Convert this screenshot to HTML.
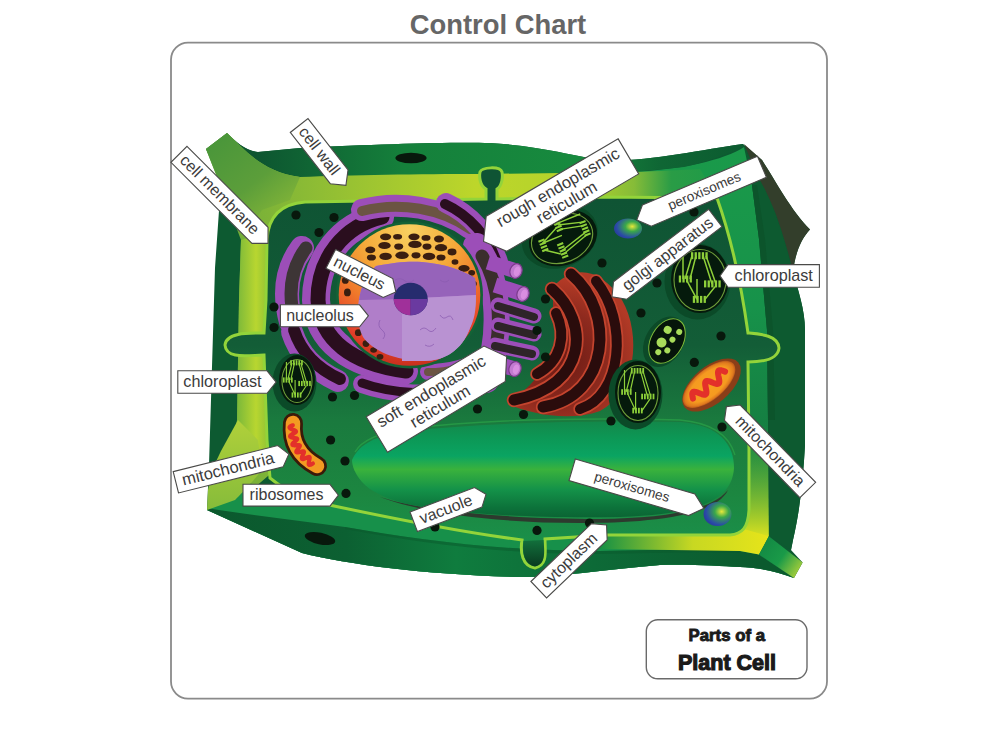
<!DOCTYPE html><html><head><meta charset="utf-8"><style>
html,body{margin:0;padding:0;background:#fff;}
svg{display:block;font-family:"Liberation Sans",sans-serif;}
text{fill:#3b3b3b;}
</style></head><body>
<svg width="1001" height="734" viewBox="0 0 1001 734">
<defs>
<linearGradient id="cyto" gradientUnits="userSpaceOnUse" x1="0" y1="200" x2="0" y2="545">
 <stop offset="0" stop-color="#0f5434"/><stop offset="0.42" stop-color="#135d37"/><stop offset="0.64" stop-color="#1a7a3e"/><stop offset="0.85" stop-color="#1c8640"/><stop offset="1" stop-color="#1a904a"/>
</linearGradient>
<linearGradient id="olive" gradientUnits="userSpaceOnUse" x1="210" y1="0" x2="740" y2="0">
 <stop offset="0" stop-color="#6aa83a"/><stop offset="0.15" stop-color="#86b836"/><stop offset="0.5" stop-color="#bdd62a"/><stop offset="0.7" stop-color="#b3d22c"/><stop offset="0.8" stop-color="#86bc38"/><stop offset="0.87" stop-color="#2a9c46"/><stop offset="1" stop-color="#1a9a48"/>
</linearGradient>
<linearGradient id="vac" x1="0" y1="0" x2="0" y2="1">
 <stop offset="0" stop-color="#13884a"/><stop offset="0.18" stop-color="#0c9856"/><stop offset="0.36" stop-color="#0aa462"/><stop offset="0.5" stop-color="#3ab23c"/>
 <stop offset="0.71" stop-color="#149249"/><stop offset="0.9" stop-color="#0c723a"/><stop offset="1" stop-color="#0b6434"/>
</linearGradient>
<radialGradient id="nucOr" cx="0.5" cy="0.05" r="0.95">
 <stop offset="0" stop-color="#f8d060"/><stop offset="0.35" stop-color="#f5aa3a"/><stop offset="0.6" stop-color="#f07a2a"/><stop offset="0.85" stop-color="#e4402a"/><stop offset="1" stop-color="#c8301e"/>
</radialGradient>
<radialGradient id="perox" cx="0.65" cy="0.4" r="0.7">
 <stop offset="0" stop-color="#e8e83a"/><stop offset="0.35" stop-color="#3aa84a"/><stop offset="0.8" stop-color="#2a4aa8"/><stop offset="1" stop-color="#2a3a98"/>
</radialGradient>
<linearGradient id="yel" x1="0" y1="0" x2="1" y2="0">
 <stop offset="0" stop-color="#159044"/><stop offset="0.55" stop-color="#c8d822"/><stop offset="1" stop-color="#e6e41a"/>
</linearGradient>
<linearGradient id="horn" gradientUnits="userSpaceOnUse" x1="762" y1="545" x2="800" y2="572">
 <stop offset="0" stop-color="#138a44"/><stop offset="0.5" stop-color="#1a9a48"/><stop offset="1" stop-color="#a8cf3a"/>
</linearGradient>
<linearGradient id="rightY" x1="0" y1="0" x2="0" y2="1">
 <stop offset="0" stop-color="#17964a" stop-opacity="0"/><stop offset="1" stop-color="#d8e020"/>
</linearGradient>
<linearGradient id="topband" gradientUnits="userSpaceOnUse" x1="255" y1="0" x2="750" y2="0">
 <stop offset="0" stop-color="#0d5530"/><stop offset="0.3" stop-color="#15803b"/><stop offset="0.65" stop-color="#178a3e"/><stop offset="0.82" stop-color="#0f6634"/><stop offset="1" stop-color="#0c5a30"/>
</linearGradient>
<radialGradient id="mitoR" cx="0.5" cy="0.5" r="0.5">
 <stop offset="0" stop-color="#f8a020"/><stop offset="0.75" stop-color="#f59a20"/><stop offset="0.92" stop-color="#e07a1e"/><stop offset="1" stop-color="#b8581a"/>
</radialGradient>
<linearGradient id="botband" gradientUnits="userSpaceOnUse" x1="207" y1="0" x2="760" y2="0">
 <stop offset="0" stop-color="#0b582d"/><stop offset="0.25" stop-color="#0c6032"/><stop offset="0.45" stop-color="#0f7c3e"/><stop offset="0.7" stop-color="#0d6a37"/><stop offset="1" stop-color="#0b5a2e"/>
</linearGradient>
<linearGradient id="bltri" x1="0" y1="0" x2="0" y2="1">
 <stop offset="0" stop-color="#b0d03a"/><stop offset="1" stop-color="#86bc3a"/>
</linearGradient>
<linearGradient id="leftband" x1="0" y1="0" x2="1" y2="0">
 <stop offset="0" stop-color="#7ab83a"/><stop offset="0.5" stop-color="#b8d630"/><stop offset="1" stop-color="#7cb838"/>
</linearGradient>
<linearGradient id="rface" gradientUnits="userSpaceOnUse" x1="0" y1="150" x2="0" y2="545">
 <stop offset="0" stop-color="#1a9a4a"/><stop offset="0.4" stop-color="#17924a"/><stop offset="0.7" stop-color="#157f42"/><stop offset="1" stop-color="#3aa03a"/>
</linearGradient>
<radialGradient id="golgiG" gradientUnits="userSpaceOnUse" cx="560" cy="360" r="80">
 <stop offset="0" stop-color="#6a1a14"/><stop offset="0.6" stop-color="#8e2a1e"/><stop offset="1" stop-color="#b23a26"/>
</radialGradient>
<linearGradient id="hornTL" gradientUnits="userSpaceOnUse" x1="215" y1="140" x2="275" y2="215">
 <stop offset="0" stop-color="#4a963a"/><stop offset="0.6" stop-color="#5c9e3a"/><stop offset="1" stop-color="#7eb238"/>
</linearGradient>
<linearGradient id="bulb" x1="0" y1="0" x2="0" y2="1">
 <stop offset="0" stop-color="#12703c"/><stop offset="1" stop-color="#093a20"/>
</linearGradient>
</defs>

<text x="498" y="34.4" font-size="27.4" font-weight="bold" text-anchor="middle" style="fill:#666">Control Chart</text>
<rect x="171" y="42.6" width="656" height="656" rx="17" fill="#fff" stroke="#8a8a8a" stroke-width="1.8"/>
<path fill="#0d5a31" d="M227,133 C236,142 246,151 258,152 L300,148 C380,144 450,142 490,143 C540,146 570,155 600,160 C640,163 700,150 743,144 L762,160 C775,180 792,212 810,229.5 C800,240 795,255 793,272 C798,290 805,310 805,330 L805,445 C803,480 800,510 793,540 L791,550 L802.6,562.6 L794,578 C775,571 755,567 740,567 C720,566 690,564 660,565 C600,570 560,577 520,577 C430,575 350,565 302,553 L207,510 L209,465 L215,268 L221,182 L206,149 Z"/>
<path fill="url(#rface)" d="M630,172 C680,170 725,160 744,147 L750,160 L752,185 L759,239 L767,330 L768,420 L768.8,536.2 L740,535 L717,198 Z"/>
<path fill="#0d5a30" d="M744,147 L760,172 C770,195 782,230 793,272 C798,290 805,310 805,330 L805,445 C803,480 800,510 793,540 L791,550 L768.8,536.2 L768,420 L767,330 L759,239 L752,185 Z"/>
<path fill="#0b5028" opacity="0.6" d="M752,185 L759,239 L767,330 L768,420 L775,420 L773,330 L765,239 L757,185 Z"/>
<path fill="#333e2b" d="M744,144 L762,160 C775,180 792,212 810,229.5 C800,240 795,255 793,272 C788,250 780,225 775,212 C768,195 763,185 758,177 Z"/>
<path fill="url(#rightY)" d="M748,420 L768,420 L768.8,536.2 L740,535 Z"/>
<path fill="url(#topband)" d="M227,133 C236,142 246,151 258,152 L300,148 C380,144 450,142 490,143 C540,146 570,155 600,160 C640,163 700,150 743,144 L744,147 C728,153 705,163 684,167 L634,172 L480,175 L300,177 C262,172 245,150 227,133 Z"/>
<path fill="url(#olive)" d="M206,149 L227,133 C245,150 262,172 300,177 C350,175 420,174 480,174 L634,172 C660,171 680,170 700,169 L717,198 L600,215 L300,215 L285,240 L280,300 L275,470 L240,500 L207,510 L213,490 L230,455 L237,420 L239,300 L241,240 C232,215 222,190 206,149 Z"/>
<path fill="url(#hornTL)" d="M206,149 L227,133 C245,150 262,172 300,177 L290,200 L262,210 L245,235 C232,210 222,190 206,149 Z"/>
<path fill="url(#leftband)" d="M241,240 L275,230 L270,470 L258,470 L237,430 L239,300 Z"/>
<path fill="#17904a" d="M240,480 C270,490 300,500 334,506 C420,522 480,535 532,540 L608,535 L740,535 L768.8,536.2 L759,554.6 L794,578 C775,571 755,567 740,567 C720,566 690,564 660,565 C600,570 560,577 520,577 C430,575 350,565 302,553 L207,510 Z"/>
<path fill="url(#botband)" d="M207,508 C250,515 300,521 345,527 C420,540 500,551 600,551 L700,549 L740,551 L759,554.6 L794,578 C775,571 755,567 740,567 C720,566 690,564 660,565 C600,570 560,577 520,577 C430,575 350,565 302,553 L207,510 Z"/>
<path fill="#0a5a2c" opacity="0.5" d="M345,527 C420,540 500,551 600,551 L700,549 L740,551 L740,553 L700,552 L600,554 C500,554 420,543 345,529 Z"/>
<path fill="url(#bltri)" d="M207,510 L208,490 L212,470 L221,451 L238,420 L258,440 L262,470 C250,485 240,495 235,500 Z"/>
<path fill="url(#yel)" d="M600,533 L700,531 L740,528 L768.8,536.2 L759,554.6 L740,551 L600,549 Z"/>
<path fill="url(#horn)" d="M768.8,536.2 L802.6,562.6 L794,578 L759,554.6 Z"/>
<path fill="url(#cyto)" stroke="#93d43a" stroke-width="3" d="M267,240 C268,218 280,204 305,202 L486,199 L486,189 C480,186 479,177 480,172 C482,167 500,166 502,172 C503,177 502,186 497,189 L497,199 L600,197 L717,198
 C732,240 742,290 748,333 C760,334 778,335 779,348 C778,360 760,362 748,362 L749,450 L749,510 C748,528 742,534 730,535 L608,535 L545,539
 C545,552 548,565 535,568 C522,566 520,552 522,540 C460,532 400,520 334,506 C300,500 285,490 270,478 L267,440 L264,355 C250,355 226,360 225,345
 C226,332 250,333 264,333 L266,300 L267,240 Z"/>
<path fill="url(#bulb)" d="M523.5,541 C522,552 524,564.5 535,566.5 C546,564.5 544.5,552 543.5,540 Z"/>
<path fill="#2d3a2e" d="M380,497 C420,510 500,519 600,519 C660,518 710,512 728,490 C715,518 640,523 580,523 C490,523 420,512 380,497 Z"/>
<path fill="none" stroke="#2fae4a" stroke-width="1.4" opacity="0.55" d="M355,452 C362,440 378,433 405,429 C470,421 560,417 680,420 C715,423 730,438 735,455"/>
<path fill="url(#vac)" d="M352,460 C358,446 372,437 400,432 C470,424 560,420 680,422 C720,425 734,445 734,468 C732,500 700,514 620,517 C520,519 440,512 403,503 C385,498 370,491 362,482 C355,474 352,466 352,460 Z"/>
<path d="M302,248 C287,268 283,292 291,322" fill="none" stroke="#9c4eb8" stroke-width="24" stroke-linecap="round"/>
<path d="M302,248 C287,268 283,292 291,322" transform="translate(4,0)" fill="none" stroke="#3d3536" stroke-width="13" stroke-linecap="round"/>
<path d="M292,332 C299,354 314,370 338,381" fill="none" stroke="#9c4eb8" stroke-width="22" stroke-linecap="round"/>
<path d="M292,332 C299,354 314,370 338,381" transform="translate(2,-2)" fill="none" stroke="#2a0e1e" stroke-width="12" stroke-linecap="round"/>
<path d="M380,217 C342,226 316,258 316,300 C318,340 350,364 404,371" fill="none" stroke="#9c4eb8" stroke-width="28" stroke-linecap="round"/>
<path d="M380,217 C342,226 316,258 316,300 C318,340 350,364 404,371" transform="translate(2,0)" fill="none" stroke="#2a0e1e" stroke-width="15" stroke-linecap="round"/>
<path d="M362,210 C400,200 442,208 470,228" fill="none" stroke="#9c4eb8" stroke-width="22" stroke-linecap="round"/>
<path d="M362,210 C400,200 442,208 470,228" transform="translate(0,1)" fill="none" stroke="#6b5443" stroke-width="10" stroke-linecap="round"/>
<path d="M446,203 C470,214 490,236 498,262" fill="none" stroke="#9c4eb8" stroke-width="20" stroke-linecap="round"/>
<path d="M446,203 C470,214 490,236 498,262" transform="translate(-1,1)" fill="none" stroke="#2a0e1e" stroke-width="10" stroke-linecap="round"/>
<path d="M362,384 C392,395 432,397 472,387" fill="none" stroke="#9c4eb8" stroke-width="18" stroke-linecap="round"/>
<path d="M362,384 C392,395 432,397 472,387" transform="translate(0,-1)" fill="none" stroke="#2a0e1e" stroke-width="9" stroke-linecap="round"/>
<path d="M428,372 C450,372 470,366 484,357" fill="none" stroke="#9c4eb8" stroke-width="16" stroke-linecap="round"/>
<path d="M428,372 C450,372 470,366 484,357" transform="translate(0,0)" fill="none" stroke="#6b5443" stroke-width="8" stroke-linecap="round"/>
<path d="M476,246 C498,275 504,330 486,380" fill="none" stroke="#9c4eb8" stroke-width="26" stroke-linecap="round"/>
<path d="M482,256 C500,285 504,330 490,372" fill="none" stroke="#3a2e2c" stroke-width="13" stroke-linecap="round"/>
<line x1="488" y1="262" x2="516" y2="271" stroke="#9c4eb8" stroke-width="15" stroke-linecap="butt"/>
<g transform="translate(516,271) rotate(17.8)"><ellipse cx="0" cy="0" rx="6" ry="7.5" fill="#c27ad0" stroke="#7a3a8a" stroke-width="1.2"/><ellipse cx="1" cy="0" rx="3" ry="5" fill="#d98ee0"/></g>
<line x1="495" y1="285" x2="523" y2="294" stroke="#9c4eb8" stroke-width="15" stroke-linecap="butt"/>
<g transform="translate(523,294) rotate(17.8)"><ellipse cx="0" cy="0" rx="6" ry="7.5" fill="#c27ad0" stroke="#7a3a8a" stroke-width="1.2"/><ellipse cx="1" cy="0" rx="3" ry="5" fill="#d98ee0"/></g>
<line x1="498" y1="305" x2="534" y2="316" stroke="#9c4eb8" stroke-width="15" stroke-linecap="round"/>
<line x1="498" y1="306" x2="534" y2="317" stroke="#2e2428" stroke-width="8" stroke-linecap="round"/>
<line x1="498" y1="325" x2="534" y2="334" stroke="#9c4eb8" stroke-width="15" stroke-linecap="round"/>
<line x1="498" y1="326" x2="534" y2="335" stroke="#2e2428" stroke-width="8" stroke-linecap="round"/>
<line x1="495" y1="345" x2="532" y2="353" stroke="#9c4eb8" stroke-width="15" stroke-linecap="round"/>
<line x1="495" y1="346" x2="532" y2="354" stroke="#2e2428" stroke-width="8" stroke-linecap="round"/>
<line x1="490" y1="362" x2="515" y2="369" stroke="#9c4eb8" stroke-width="15" stroke-linecap="butt"/>
<g transform="translate(515,369) rotate(15.6)"><ellipse cx="0" cy="0" rx="6" ry="7.5" fill="#c27ad0" stroke="#7a3a8a" stroke-width="1.2"/><ellipse cx="1" cy="0" rx="3" ry="5" fill="#d98ee0"/></g>
<circle cx="409.5" cy="295" r="73.5" fill="#136236"/>
<circle cx="409.5" cy="295" r="70.8" fill="url(#nucOr)"/>
<ellipse cx="385.6" cy="236.8" rx="5.6" ry="3.4" fill="#3a1e10"/>
<ellipse cx="397.6" cy="236.8" rx="4.5" ry="2.8" fill="#3a1e10"/>
<ellipse cx="414" cy="236.8" rx="5.6" ry="3.4" fill="#3a1e10"/>
<ellipse cx="426" cy="237.9" rx="4.5" ry="2.8" fill="#3a1e10"/>
<ellipse cx="439" cy="239" rx="5.0" ry="3.4" fill="#3a1e10"/>
<ellipse cx="370.3" cy="249.9" rx="5.0" ry="3.4" fill="#3a1e10"/>
<ellipse cx="384.5" cy="245.5" rx="6.2" ry="3.6" fill="#3a1e10"/>
<ellipse cx="398.7" cy="246.6" rx="4.5" ry="3.1" fill="#3a1e10"/>
<ellipse cx="415" cy="244.4" rx="6.7" ry="3.7" fill="#3a1e10"/>
<ellipse cx="427" cy="246.6" rx="4.5" ry="3.1" fill="#3a1e10"/>
<ellipse cx="441" cy="247.7" rx="6.2" ry="3.6" fill="#3a1e10"/>
<ellipse cx="452" cy="252" rx="4.5" ry="3.4" fill="#3a1e10"/>
<ellipse cx="371.4" cy="257.5" rx="4.5" ry="3.1" fill="#3a1e10"/>
<ellipse cx="385.6" cy="256.4" rx="6.2" ry="3.6" fill="#3a1e10"/>
<ellipse cx="402" cy="255.3" rx="6.7" ry="3.7" fill="#3a1e10"/>
<ellipse cx="416" cy="255.3" rx="4.5" ry="3.1" fill="#3a1e10"/>
<ellipse cx="429" cy="256.4" rx="6.2" ry="3.6" fill="#3a1e10"/>
<ellipse cx="441" cy="257.5" rx="4.5" ry="3.1" fill="#3a1e10"/>
<ellipse cx="464" cy="268.4" rx="5.6" ry="3.4" fill="#3a1e10"/>
<ellipse cx="471.7" cy="272.8" rx="3.4" ry="2.8" fill="#3a1e10"/>
<ellipse cx="469.5" cy="278" rx="3.4" ry="2.8" fill="#3a1e10"/>
<ellipse cx="474" cy="283.7" rx="2.8" ry="2.8" fill="#3a1e10"/>
<ellipse cx="345.3" cy="280.4" rx="3.4" ry="3.4" fill="#3a1e10"/>
<ellipse cx="347.4" cy="292.4" rx="3.4" ry="3.9" fill="#3a1e10"/>
<ellipse cx="349" cy="310" rx="3.4" ry="3.4" fill="#3a1e10"/>
<ellipse cx="358.3" cy="332.7" rx="3.4" ry="3.4" fill="#3a1e10"/>
<ellipse cx="366" cy="343.6" rx="3.4" ry="3.4" fill="#3a1e10"/>
<ellipse cx="373.6" cy="350" rx="3.4" ry="2.8" fill="#3a1e10"/>
<ellipse cx="380" cy="356.7" rx="3.4" ry="2.8" fill="#3a1e10"/>
<ellipse cx="358" cy="265" rx="4.5" ry="3.4" fill="#3a1e10"/>
<ellipse cx="455" cy="262" rx="3.4" ry="2.8" fill="#3a1e10"/>
<path fill="#b07ec9" d="M376,266 C395,262 410,261 422,262 C445,264 462,270 475,278 C477,295 476,312 470,328 C462,350 445,361 424,361 C395,361 372,350 363,337 C357,325 357,312 358,306 C360,288 366,275 376,266 Z"/>
<path fill="#9663ba" d="M376,266 C395,262 410,261 422,262 C445,264 462,270 475,278 C476,284 476,290 476,295 L402,299 L359,300 C361,286 366,275 376,266 Z"/>
<path fill="#b992d2" d="M402,299 L476,295 C476,312 474,320 470,328 C462,350 445,361 424,361 L402,361 Z"/>
<g fill="none" stroke="#8a5ab0" stroke-width="0.9" opacity="0.8"><path d="M420,330 q4,-4 8,0 q4,4 8,-2 M440,315 q3,5 7,2 q4,-3 6,3 M380,320 q-3,6 2,10 q5,4 1,9 M425,345 q5,3 9,-1 M395,280 q6,-3 10,1 q4,3 9,-1 M440,280 q5,4 9,0"/></g>
<ellipse cx="410.7" cy="299" rx="17" ry="16.3" fill="#262c6e"/>
<path d="M410.7,299 L393.7,299 A17,16.3 0 0 0 410.7,315.3 Z" fill="#a0309a"/>
<path d="M410.7,299 L427.7,299 A17,16.3 0 0 1 410.7,315.3 Z" fill="#6a3aa0"/>
<path fill="url(#golgiG)" d="M553,287 C575,262 602,270 622,300 C642,335 636,392 600,411 C570,422 530,414 508,404 C520,394 528,388 536,378 C556,362 563,335 553,312 Z"/>
<path d="M556,313 C567,336 561,361 537,374" fill="none" stroke="#c4442e" stroke-width="13.5" stroke-linecap="round"/>
<path d="M556,313 C567,336 561,361 537,374" fill="none" stroke="#2a0c0c" stroke-width="10" stroke-linecap="round"/>
<path d="M552,289 C590,322 588,386 514,400" fill="none" stroke="#c4442e" stroke-width="14.5" stroke-linecap="round"/>
<path d="M552,289 C590,322 588,386 514,400" fill="none" stroke="#2a0c0c" stroke-width="11" stroke-linecap="round"/>
<path d="M571,274 C616,312 610,396 543,407" fill="none" stroke="#c4442e" stroke-width="14.5" stroke-linecap="round"/>
<path d="M571,274 C616,312 610,396 543,407" fill="none" stroke="#2a0c0c" stroke-width="11" stroke-linecap="round"/>
<path d="M596,281 C629,322 622,396 580,409" fill="none" stroke="#c4442e" stroke-width="13.5" stroke-linecap="round"/>
<path d="M596,281 C629,322 622,396 580,409" fill="none" stroke="#2a0c0c" stroke-width="10" stroke-linecap="round"/>
<g transform="translate(563,238) rotate(68)">
<ellipse cx="-2.5" cy="2.5" rx="31" ry="39" fill="#0b4a28"/>
<ellipse cx="0" cy="0" rx="27" ry="35" fill="#051a0c"/>
<ellipse cx="0" cy="1" rx="24" ry="31.5" fill="none" stroke="#6f9e3a" stroke-width="1.1"/>
<path d="M-15.8,-25.0 L-15.8,0.0 M-7.4,-24.0 L-14.0,0.0 M-3.7,-24.0 L-9.3,0.0 M2.8,-24.0 L11.2,5.0 M5.6,-24.0 L14.9,5.0 M-12.1,2.0 L-2.8,21.0 M-2.8,0.0 L-2.8,21.0 M14.0,8.0 L4.7,21.0" stroke="#8ed03a" fill="none" stroke-width="1.40"/>
<g fill="#8ed03a"><rect x="-8.4" y="-27.3" width="2.1" height="6.5"/><rect x="-5.0" y="-27.3" width="2.1" height="6.5"/><rect x="-1.7" y="-27.3" width="2.1" height="6.5"/><rect x="1.7" y="-27.3" width="2.1" height="6.5"/><rect x="5.0" y="-27.3" width="2.1" height="6.5"/></g>
<g fill="#8ed03a"><rect x="-19.7" y="-3.3" width="2.1" height="6.5"/><rect x="-16.4" y="-3.3" width="2.1" height="6.5"/><rect x="-13.0" y="-3.3" width="2.1" height="6.5"/><rect x="-9.7" y="-3.3" width="2.1" height="6.5"/></g>
<g fill="#8ed03a"><rect x="3.7" y="1.7" width="2.1" height="6.5"/><rect x="7.1" y="1.7" width="2.1" height="6.5"/><rect x="10.4" y="1.7" width="2.1" height="6.5"/><rect x="13.8" y="1.7" width="2.1" height="6.5"/><rect x="17.1" y="1.7" width="2.1" height="6.5"/></g>
<g fill="#8ed03a"><rect x="-6.7" y="17.7" width="2.1" height="6.5"/><rect x="-3.4" y="17.7" width="2.1" height="6.5"/><rect x="0.0" y="17.7" width="2.1" height="6.5"/><rect x="3.4" y="17.7" width="2.1" height="6.5"/></g>
</g>
<g transform="translate(700,279) rotate(0)">
<ellipse cx="-2.5" cy="2.5" rx="33" ry="38" fill="#0b4a28"/>
<ellipse cx="0" cy="0" rx="29" ry="34" fill="#051a0c"/>
<ellipse cx="0" cy="1" rx="26" ry="30.5" fill="none" stroke="#6f9e3a" stroke-width="1.1"/>
<path d="M-17.0,-24.3 L-17.0,0.0 M-8.0,-23.3 L-15.0,0.0 M-4.0,-23.3 L-10.0,0.0 M3.0,-23.3 L12.0,4.9 M6.0,-23.3 L16.0,4.9 M-13.0,1.9 L-3.0,20.4 M-3.0,0.0 L-3.0,20.4 M15.0,7.8 L5.0,20.4" stroke="#8ed03a" fill="none" stroke-width="1.50"/>
<g fill="#8ed03a"><rect x="-9.0" y="-26.8" width="2.3" height="7.0"/><rect x="-5.4" y="-26.8" width="2.3" height="7.0"/><rect x="-1.8" y="-26.8" width="2.3" height="7.0"/><rect x="1.8" y="-26.8" width="2.3" height="7.0"/><rect x="5.4" y="-26.8" width="2.3" height="7.0"/></g>
<g fill="#8ed03a"><rect x="-21.2" y="-3.5" width="2.3" height="7.0"/><rect x="-17.6" y="-3.5" width="2.3" height="7.0"/><rect x="-14.0" y="-3.5" width="2.3" height="7.0"/><rect x="-10.4" y="-3.5" width="2.3" height="7.0"/></g>
<g fill="#8ed03a"><rect x="4.0" y="1.4" width="2.3" height="7.0"/><rect x="7.6" y="1.4" width="2.3" height="7.0"/><rect x="11.2" y="1.4" width="2.3" height="7.0"/><rect x="14.8" y="1.4" width="2.3" height="7.0"/><rect x="18.4" y="1.4" width="2.3" height="7.0"/></g>
<g fill="#8ed03a"><rect x="-7.2" y="16.9" width="2.3" height="7.0"/><rect x="-3.6" y="16.9" width="2.3" height="7.0"/><rect x="0.0" y="16.9" width="2.3" height="7.0"/><rect x="3.6" y="16.9" width="2.3" height="7.0"/></g>
</g>
<g transform="translate(638,392) rotate(0)">
<ellipse cx="-2.5" cy="2.5" rx="27" ry="35" fill="#0b4a28"/>
<ellipse cx="0" cy="0" rx="23" ry="31" fill="#051a0c"/>
<ellipse cx="0" cy="1" rx="20" ry="27.5" fill="none" stroke="#6f9e3a" stroke-width="1.1"/>
<path d="M-13.5,-22.1 L-13.5,0.0 M-6.3,-21.3 L-11.9,0.0 M-3.2,-21.3 L-7.9,0.0 M2.4,-21.3 L9.5,4.4 M4.8,-21.3 L12.7,4.4 M-10.3,1.8 L-2.4,18.6 M-2.4,0.0 L-2.4,18.6 M11.9,7.1 L4.0,18.6" stroke="#8ed03a" fill="none" stroke-width="1.19"/>
<g fill="#8ed03a"><rect x="-7.1" y="-24.0" width="1.8" height="5.6"/><rect x="-4.3" y="-24.0" width="1.8" height="5.6"/><rect x="-1.4" y="-24.0" width="1.8" height="5.6"/><rect x="1.4" y="-24.0" width="1.8" height="5.6"/><rect x="4.3" y="-24.0" width="1.8" height="5.6"/></g>
<g fill="#8ed03a"><rect x="-16.8" y="-2.8" width="1.8" height="5.6"/><rect x="-14.0" y="-2.8" width="1.8" height="5.6"/><rect x="-11.1" y="-2.8" width="1.8" height="5.6"/><rect x="-8.2" y="-2.8" width="1.8" height="5.6"/></g>
<g fill="#8ed03a"><rect x="3.2" y="1.7" width="1.8" height="5.6"/><rect x="6.0" y="1.7" width="1.8" height="5.6"/><rect x="8.9" y="1.7" width="1.8" height="5.6"/><rect x="11.7" y="1.7" width="1.8" height="5.6"/><rect x="14.6" y="1.7" width="1.8" height="5.6"/></g>
<g fill="#8ed03a"><rect x="-5.7" y="15.8" width="1.8" height="5.6"/><rect x="-2.9" y="15.8" width="1.8" height="5.6"/><rect x="0.0" y="15.8" width="1.8" height="5.6"/><rect x="2.9" y="15.8" width="1.8" height="5.6"/></g>
</g>
<g transform="translate(297,380) rotate(0)">
<ellipse cx="-2.5" cy="2.5" rx="22" ry="29" fill="#0b4a28"/>
<ellipse cx="0" cy="0" rx="18" ry="25" fill="#051a0c"/>
<ellipse cx="0" cy="1" rx="15" ry="21.5" fill="none" stroke="#6f9e3a" stroke-width="1.1"/>
<path d="M-10.6,-17.9 L-10.6,0.0 M-5.0,-17.1 L-9.3,0.0 M-2.5,-17.1 L-6.2,0.0 M1.9,-17.1 L7.4,3.6 M3.7,-17.1 L9.9,3.6 M-8.1,1.4 L-1.9,15.0 M-1.9,0.0 L-1.9,15.0 M9.3,5.7 L3.1,15.0" stroke="#8ed03a" fill="none" stroke-width="1.12"/>
<g fill="#8ed03a"><rect x="-6.8" y="-19.8" width="1.7" height="5.2"/><rect x="-4.0" y="-19.8" width="1.7" height="5.2"/><rect x="-1.3" y="-19.8" width="1.7" height="5.2"/><rect x="1.4" y="-19.8" width="1.7" height="5.2"/><rect x="4.1" y="-19.8" width="1.7" height="5.2"/></g>
<g fill="#8ed03a"><rect x="-14.1" y="-2.6" width="1.7" height="5.2"/><rect x="-11.4" y="-2.6" width="1.7" height="5.2"/><rect x="-8.7" y="-2.6" width="1.7" height="5.2"/><rect x="-6.0" y="-2.6" width="1.7" height="5.2"/></g>
<g fill="#8ed03a"><rect x="1.3" y="0.9" width="1.7" height="5.2"/><rect x="4.0" y="0.9" width="1.7" height="5.2"/><rect x="6.7" y="0.9" width="1.7" height="5.2"/><rect x="9.4" y="0.9" width="1.7" height="5.2"/><rect x="12.1" y="0.9" width="1.7" height="5.2"/></g>
<g fill="#8ed03a"><rect x="-5.4" y="12.4" width="1.7" height="5.2"/><rect x="-2.7" y="12.4" width="1.7" height="5.2"/><rect x="0.0" y="12.4" width="1.7" height="5.2"/><rect x="2.7" y="12.4" width="1.7" height="5.2"/></g>
</g>
<g transform="translate(667,341) rotate(30)"><ellipse rx="19" ry="27" fill="#0c4a28" cx="-2" cy="2"/><ellipse rx="16" ry="24" fill="#06150a" stroke="#7dba3a" stroke-width="1"/>
<circle cx="-5" cy="-10" r="4" fill="#a8dc5a"/>
<circle cx="4" cy="-4" r="3" fill="#a8dc5a"/>
<circle cx="-4" cy="4" r="5" fill="#a8dc5a"/>
<circle cx="5" cy="8" r="3" fill="#a8dc5a"/>
<circle cx="-2" cy="14" r="3" fill="#a8dc5a"/>
<circle cx="6" cy="-14" r="3" fill="#a8dc5a"/>
</g>
<g transform="translate(711.5,385) rotate(-40)"><ellipse rx="35" ry="18.5" fill="#8a3e18"/><ellipse cx="-1.5" cy="-2" rx="32" ry="15" fill="url(#mitoR)"/><path d="M-22.0,0.5 L-21.3,-0.8 L-20.6,-2.0 L-19.9,-3.0 L-19.2,-3.8 L-18.5,-4.3 L-17.8,-4.5 L-17.1,-4.3 L-16.4,-3.8 L-15.7,-3.0 L-15.0,-2.0 L-14.3,-0.8 L-13.6,0.5 L-12.9,1.8 L-12.2,3.0 L-11.5,4.0 L-10.8,4.8 L-10.1,5.3 L-9.4,5.5 L-8.7,5.3 L-8.0,4.8 L-7.3,4.0 L-6.6,3.0 L-5.9,1.8 L-5.2,0.5 L-4.5,-0.8 L-3.8,-2.0 L-3.1,-3.0 L-2.4,-3.8 L-1.7,-4.3 L-1.0,-4.5 L-0.3,-4.3 L0.4,-3.8 L1.1,-3.0 L1.8,-2.0 L2.5,-0.8 L3.2,0.5 L3.9,1.8 L4.6,3.0 L5.3,4.0 L6.0,4.8 L6.7,5.3 L7.4,5.5 L8.1,5.3 L8.8,4.8 L9.5,4.0 L10.2,3.0 L10.9,1.8 L11.6,0.5 L12.3,-0.8 L13.0,-2.0 L13.7,-3.0 L14.4,-3.8 L15.1,-4.3 L15.8,-4.5 L16.5,-4.3 L17.2,-3.8 L17.9,-3.0 L18.6,-2.0 L19.3,-0.8 L20.0,0.5" stroke="#e3302a" stroke-width="6" fill="none" stroke-linecap="round" stroke-linejoin="round" transform="translate(-1,-2)"/></g>
<path d="M293,423 C291,442 299,456 317,466" fill="none" stroke="#3a1a0a" stroke-width="20" stroke-linecap="round"/>
<path d="M293,423 C291,442 299,456 317,466" fill="none" stroke="#f39a22" stroke-width="14.5" stroke-linecap="round"/>
<path d="M292.8,425.3 L291.4,425.8 L290.3,426.4 L289.6,427.0 L289.5,427.6 L290.0,428.3 L291.0,428.9 L292.3,429.5 L293.7,430.0 L294.9,430.5 L295.7,431.0 L296.0,431.6 L295.7,432.1 L294.9,432.7 L293.7,433.4 L292.4,434.1 L291.2,434.9 L290.4,435.6 L290.1,436.3 L290.4,436.8 L291.2,437.3 L292.5,437.6 L293.9,437.8 L295.3,438.1 L296.5,438.3 L297.1,438.7 L297.2,439.2 L296.8,439.8 L295.9,440.6 L294.8,441.5 L293.7,442.5 L292.9,443.4 L292.4,444.2 L292.5,444.8 L293.1,445.1 L294.2,445.3 L295.6,445.3 L297.1,445.2 L298.4,445.1 L299.4,445.2 L299.9,445.5 L299.8,446.1 L299.4,446.9 L298.6,448.0 L297.7,449.2 L296.9,450.3 L296.4,451.3 L296.3,452.0 L296.8,452.4 L297.7,452.5 L298.9,452.3 L300.3,452.0 L301.7,451.6 L302.9,451.4 L303.7,451.4 L304.0,451.8 L303.9,452.5 L303.5,453.6 L302.9,454.9 L302.3,456.2 L301.9,457.5 L301.8,458.4 L302.1,459.0 L302.8,459.1 L303.9,458.9 L305.1,458.4 L306.5,457.8 L307.8,457.2 L308.8,456.9 L309.4,457.0 L309.7,457.6 L309.6,458.5 L309.4,459.8 L309.0,461.3 L308.8,462.7 L308.7,463.9 L308.9,464.7 L309.5,465.0 L310.4,464.8 L311.6,464.3 L312.9,463.5" fill="none" stroke="#e3302a" stroke-width="4.2" stroke-linecap="round" stroke-linejoin="round"/>
<ellipse cx="628" cy="228.5" rx="14" ry="10" fill="url(#perox)"/>
<ellipse cx="717.5" cy="514" rx="14" ry="12" fill="url(#perox)"/>
<circle cx="296" cy="215" r="4.6" fill="#08180c"/>
<circle cx="334" cy="217.5" r="4.6" fill="#08180c"/>
<circle cx="319" cy="232.5" r="4.6" fill="#08180c"/>
<circle cx="274" cy="307" r="4.6" fill="#08180c"/>
<circle cx="274" cy="327.5" r="4.6" fill="#08180c"/>
<circle cx="332.5" cy="397" r="4.6" fill="#08180c"/>
<circle cx="354.5" cy="395.5" r="4.6" fill="#08180c"/>
<circle cx="330.6" cy="440" r="4.6" fill="#08180c"/>
<circle cx="345" cy="461" r="4.6" fill="#08180c"/>
<circle cx="346" cy="493.4" r="4.6" fill="#08180c"/>
<circle cx="435" cy="527" r="4.6" fill="#08180c"/>
<circle cx="477.5" cy="409" r="4.6" fill="#08180c"/>
<circle cx="523.5" cy="414.5" r="4.6" fill="#08180c"/>
<circle cx="611" cy="421" r="4.6" fill="#08180c"/>
<circle cx="722" cy="427" r="4.6" fill="#08180c"/>
<circle cx="537" cy="530.4" r="4.6" fill="#08180c"/>
<circle cx="589.5" cy="523" r="4.6" fill="#08180c"/>
<circle cx="602" cy="263" r="4.6" fill="#08180c"/>
<circle cx="657" cy="283" r="4.6" fill="#08180c"/>
<circle cx="545.5" cy="299" r="4.6" fill="#08180c"/>
<circle cx="641" cy="313" r="4.6" fill="#08180c"/>
<circle cx="537" cy="330.5" r="4.6" fill="#08180c"/>
<circle cx="545.5" cy="357" r="4.6" fill="#08180c"/>
<circle cx="721" cy="336" r="4.6" fill="#08180c"/>
<circle cx="694.3" cy="362.4" r="4.6" fill="#08180c"/>
<circle cx="694" cy="212" r="4.6" fill="#08180c"/>
<ellipse cx="411" cy="158" rx="15.6" ry="5.3" fill="#08180c"/>
<ellipse cx="320" cy="538.5" rx="15.5" ry="5.8" fill="#08180c" transform="rotate(12 320 538.5)"/>
<g transform="translate(187,146.3) rotate(45)"><polygon points="0,0 114.6,0 125.89999999999999,11.35 114.6,22.7 0,22.7" fill="#fff" stroke="#4a4a48" stroke-width="1.1"/><text x="57.3" y="16.31" font-size="16" text-anchor="middle">cell membrane</text></g>
<g transform="translate(308,118.6) rotate(52)"><polygon points="0,0 65,0 76,11.25 65,22.5 0,22.5" fill="#fff" stroke="#4a4a48" stroke-width="1.1"/><text x="32.5" y="16.21" font-size="16" text-anchor="middle">cell wall</text></g>
<g transform="translate(486.2,216.3) rotate(-30.4)"><polygon points="0,0 153,0 153,40.6 0,40.6 -15,20.3" fill="#fff" stroke="#4a4a48" stroke-width="1.1"/><text x="76.5" y="16.84" font-size="16.5" text-anchor="middle">rough endoplasmic</text><text x="76.5" y="34.16" font-size="16.5" text-anchor="middle">reticulum</text></g>
<g transform="translate(642.4,205.1) rotate(-23)"><polygon points="0,0 125,0 125,22.9 0,22.9 -10.9,11.45" fill="#fff" stroke="#4a4a48" stroke-width="1.1"/><text x="62.5" y="15.70" font-size="13.7" text-anchor="middle">peroxisomes</text></g>
<g transform="translate(613.5,281.7) rotate(-37.3)"><polygon points="0,0 119.6,0 119.6,22 0,22 -10.3,11.0" fill="#fff" stroke="#4a4a48" stroke-width="1.1"/><text x="59.8" y="15.96" font-size="16" text-anchor="middle">golgi apparatus</text></g>
<g transform="translate(728,264.6) rotate(0)"><polygon points="0,0 91.4,0 91.4,22.6 0,22.6 -8,11.3" fill="#fff" stroke="#4a4a48" stroke-width="1.1"/><text x="45.7" y="16.32" font-size="16.2" text-anchor="middle">chloroplast</text></g>
<g transform="translate(335.6,249.4) rotate(27)"><polygon points="0,0 64.2,0 73.0,10.6 64.2,21.2 0,21.2" fill="#fff" stroke="#4a4a48" stroke-width="1.1"/><text x="32.1" y="15.56" font-size="16" text-anchor="middle">nucleus</text></g>
<g transform="translate(280.4,304.8) rotate(0)"><polygon points="0,0 79.2,0 88.0,11.0 79.2,22 0,22" fill="#fff" stroke="#4a4a48" stroke-width="1.1"/><text x="39.6" y="15.96" font-size="16" text-anchor="middle">nucleolus</text></g>
<g transform="translate(177.8,370.8) rotate(0)"><polygon points="0,0 89.3,0 98.3,11.25 89.3,22.5 0,22.5" fill="#fff" stroke="#4a4a48" stroke-width="1.1"/><text x="44.65" y="16.27" font-size="16.2" text-anchor="middle">chloroplast</text></g>
<g transform="translate(366.2,416.8) rotate(-31)"><polygon points="0,0 137.4,0 151.4,20.7 137.4,41.4 0,41.4" fill="#fff" stroke="#4a4a48" stroke-width="1.1"/><text x="68.7" y="17.23" font-size="16.5" text-anchor="middle">soft endoplasmic</text><text x="68.7" y="34.56" font-size="16.5" text-anchor="middle">reticulum</text></g>
<g transform="translate(173.2,471.6) rotate(-14)"><polygon points="0,0 107.8,0 116.39999999999999,11.0 107.8,22 0,22" fill="#fff" stroke="#4a4a48" stroke-width="1.1"/><text x="53.9" y="16.12" font-size="16.5" text-anchor="middle">mitochondria</text></g>
<g transform="translate(243,484.3) rotate(0)"><polygon points="0,0 87,0 95.4,10.9 87,21.8 0,21.8" fill="#fff" stroke="#4a4a48" stroke-width="1.1"/><text x="43.5" y="15.86" font-size="16" text-anchor="middle">ribosomes</text></g>
<g transform="translate(410,512) rotate(-20.8)"><polygon points="0,0 69,0 77.3,10.5 69,21 0,21" fill="#fff" stroke="#4a4a48" stroke-width="1.1"/><text x="34.5" y="15.46" font-size="16" text-anchor="middle">vacuole</text></g>
<g transform="translate(575.3,459) rotate(16.3)"><polygon points="0,0 124.6,0 137.29999999999998,11.25 124.6,22.5 0,22.5" fill="#fff" stroke="#4a4a48" stroke-width="1.1"/><text x="62.3" y="15.50" font-size="13.7" text-anchor="middle">peroxisomes</text></g>
<g transform="translate(740.2,405) rotate(45.7)"><polygon points="0,0 108,0 108,22 0,22 -8.5,11.0" fill="#fff" stroke="#4a4a48" stroke-width="1.1"/><text x="54.0" y="15.96" font-size="16" text-anchor="middle">mitochondria</text></g>
<g transform="translate(530.9,581.5) rotate(-43.7)"><polygon points="0,0 83.8,0 93.8,11.35 83.8,22.7 0,22.7" fill="#fff" stroke="#4a4a48" stroke-width="1.1"/><text x="41.9" y="16.31" font-size="16" text-anchor="middle">cytoplasm</text></g>
<rect x="646.3" y="619.8" width="160.7" height="59" rx="11.5" fill="#fff" stroke="#6a6a6a" stroke-width="1.4"/>
<text x="688.5" y="641" font-size="17" font-weight="bold" textLength="76.5" lengthAdjust="spacingAndGlyphs" style="fill:#1a1a1a;stroke:#1a1a1a;stroke-width:0.9">Parts of a</text>
<text x="678" y="670" font-size="22" font-weight="bold" textLength="98" lengthAdjust="spacingAndGlyphs" style="fill:#1a1a1a;stroke:#1a1a1a;stroke-width:1.2">Plant Cell</text>
</svg></body></html>
